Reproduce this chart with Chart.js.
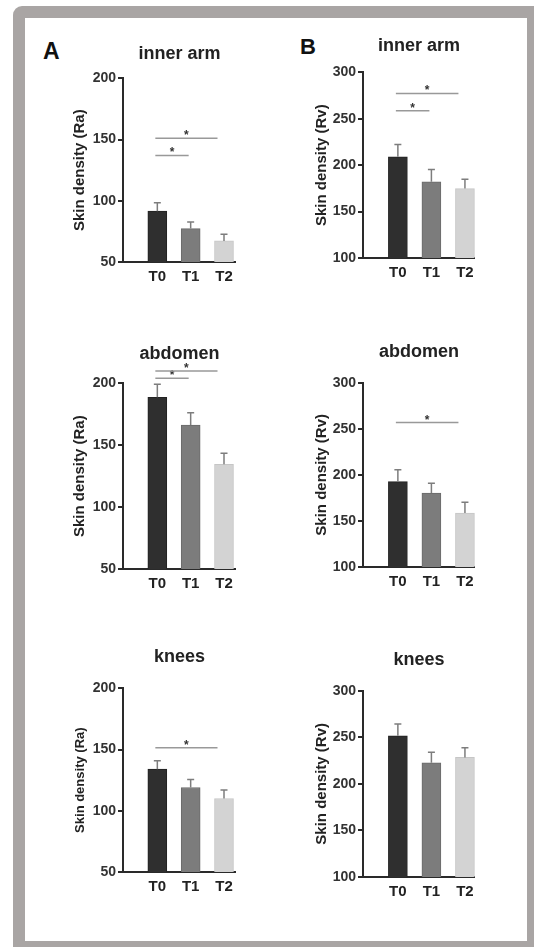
<!DOCTYPE html>
<html>
<head>
<meta charset="utf-8">
<script src="https://cdn.jsdelivr.net/npm/chart.js@4.4.1/dist/chart.umd.min.js"></script>
<style>
  html, body { margin: 0; padding: 0; background: #fff; }
  body { width: 534px; height: 947px; position: relative; overflow: hidden; font-family: "Liberation Sans", Arial, sans-serif; }
  .frame { position: absolute; left: 13px; top: 6px; width: 540px; height: 960px; background: #a9a5a4; border-radius: 9px; }
  .sheet { position: absolute; left: 25px; top: 18px; width: 502px; height: 923px; background: #fff; }
  .letter { position: absolute; font-weight: bold; color: #111; line-height: 1; }
  canvas { position: absolute; }
</style>
</head>
<body>
<div class="frame"></div>
<div class="sheet"></div>
<div class="letter" style="left:43px; top:40px; font-size:23px;">A</div>
<div class="letter" style="left:300px; top:36px; font-size:22px;">B</div>

<canvas id="armRa" width="165" height="249" style="left:71px; top:43px;"></canvas>
<canvas id="armRv" width="162" height="253" style="left:313px; top:35px;"></canvas>
<canvas id="abdRa" width="165" height="256" style="left:71px; top:343px;"></canvas>
<canvas id="abdRv" width="162" height="256" style="left:313px; top:341px;"></canvas>
<canvas id="kneeRa" width="165" height="256" style="left:71px; top:646px;"></canvas>
<canvas id="kneeRv" width="162" height="258" style="left:313px; top:649px;"></canvas>

<script>
// categories and tick values
const timepoints = ["T0", "T1", "T2"];
const raTicks = [50, 100, 150, 200];
const rvTicks = [100, 150, 200, 250, 300];

// mean + SD, brackets are [from, to, level]
const armRaMean = [91.5, 77.3, 67.2];
const armRaSd = [6.8, 5.4, 5.5];
const armRaSig = [[0, 1, 137], [0, 2, 151]];

const armRvMean = [209, 182, 174.8];
const armRvSd = [13.3, 13.4, 10.1];
const armRvSig = [[0, 1, 258.6], [0, 2, 277.3]];

const abdRaMean = [188.7, 166.3, 134.6];
const abdRaSd = [10.5, 10, 8.9];
const abdRaSig = [[0, 1, 204], [0, 2, 210]];

const abdRvMean = [192.7, 180.2, 158.5];
const abdRvSd = [12.7, 10.8, 11.9];
const abdRvSig = [[0, 2, 256.7]];

const kneeRaMean = [134, 119, 110];
const kneeRaSd = [6.8, 6.6, 6.9];
const kneeRaSig = [[0, 2, 151.5]];

const kneeRvMean = [251.6, 222.6, 228.4];
const kneeRvSd = [12.6, 11.2, 10.3];
const kneeRvSig = [];

const FONT = "'Liberation Sans', Arial, sans-serif";
const AXIS = "#2a2a2a";

// error bars (upper only) and significance brackets
const extrasPlugin = {
  id: "extras",
  afterDatasetsDraw(chart, args, opts) {
    const { ctx } = chart;
    const x = chart.scales.x;
    const y = chart.scales.y;
    const meta = chart.getDatasetMeta(0);
    ctx.save();
    ctx.lineWidth = 1.5;
    ctx.strokeStyle = "#7d7d7d";
    meta.data.forEach(function (bar, i) {
      const top = y.getPixelForValue(opts.mean[i] + opts.sd[i]);
      ctx.beginPath();
      ctx.moveTo(bar.x, bar.y);
      ctx.lineTo(bar.x, top);
      ctx.moveTo(bar.x - 3.5, top);
      ctx.lineTo(bar.x + 3.5, top);
      ctx.stroke();
    });

    opts.sig.forEach(function (s) {
      const x1 = x.getPixelForValue(s[0]) - 2;
      const x2 = x.getPixelForValue(s[1]) - (s[1] - s[0] > 1 ? 6.5 : 2);
      const yy = y.getPixelForValue(s[2]);
      ctx.strokeStyle = "#999";
      ctx.lineWidth = 1.5;
      ctx.beginPath();
      ctx.moveTo(x1, yy);
      ctx.lineTo(x2, yy);
      ctx.stroke();
      ctx.fillStyle = "#333";
      ctx.font = "bold 12px " + FONT;
      ctx.textAlign = "center";
      ctx.textBaseline = "alphabetic";
      ctx.fillText("*", (x1 + x2) / 2, yy + 1);
    });
    ctx.restore();
  },
};

function makePanel(id, title, yLabel, mean, sd, sig, ticks, xRange, pad) {
  const ctx = document.getElementById(id);
  if (!ctx) return;

  return new Chart(ctx, {
    type: "bar",
    data: {
      datasets: [
        {
          data: timepoints.map(function (t, i) {
            return { x: i, y: mean[i] };
          }),
          backgroundColor: ["#2f2f2f", "#7c7c7c", "#d3d3d3"],
          borderColor: ["#222222", "#6a6a6a", "#c6c6c6"],
          borderWidth: 1,
          barThickness: 19,
        },
      ],
    },
    options: {
      responsive: false,
      animation: false,
      layout: { padding: 0 },
      plugins: {
        legend: { display: false },
        tooltip: { enabled: false },
        title: {
          display: true,
          text: title,
          fullSize: false,
          color: "#222",
          font: { family: FONT, size: 18, weight: "bold" },
          padding: { top: 0, bottom: pad.title },
        },
        extras: { mean: mean, sd: sd, sig: sig },
      },
      scales: {
        x: {
          type: "linear",
          min: xRange[0],
          max: xRange[1],
          offset: false,
          grid: { display: false, offset: false, tickLength: 6 },
          border: { display: true, color: AXIS, width: 2 },
          ticks: {
            stepSize: 1,
            includeBounds: false,
            autoSkip: false,
            maxRotation: 0,
            padding: 0,
            color: "#222",
            font: { family: FONT, size: 15, weight: "bold" },
            callback: function (v) {
              return (Number.isInteger(v) && timepoints[v]) || "";
            },
          },
          afterFit: function (s) {
            s.height = 30;
          },
        },
        y: {
          min: ticks[0],
          max: ticks[ticks.length - 1],
          grid: {
            drawOnChartArea: false,
            drawTicks: true,
            tickLength: 5,
            lineWidth: 2,
            color: AXIS,
          },
          border: { display: true, color: AXIS, width: 2 },
          ticks: {
            stepSize: ticks[1] - ticks[0],
            padding: 2,
            color: "#333",
            font: { family: FONT, size: 14, weight: "bold" },
          },
          title: {
            display: true,
            text: yLabel,
            color: "#222",
            font: { family: FONT, size: pad.labelSize, weight: "bold" },
            padding: { top: pad.labelTop, bottom: 0 },
          },
          afterFit: function (s) {
            s.width = pad.axis;
          },
        },
      },
    },
    plugins: [extrasPlugin],
  });
}

document.addEventListener("DOMContentLoaded", function () {
  const colA = [-1.03, 2.36];
  const colB = [-1.04, 2.3];

  makePanel("armRa", "inner arm", "Skin density (Ra)", armRaMean, armRaSd, armRaSig, raTicks, colA,
    { title: 13.7, axis: 52, labelSize: 15, labelTop: 0 });
  makePanel("armRv", "inner arm", "Skin density (Rv)", armRvMean, armRvSd, armRvSig, rvTicks, colB,
    { title: 15.7, axis: 50, labelSize: 15, labelTop: 0 });
  makePanel("abdRa", "abdomen", "Skin density (Ra)", abdRaMean, abdRaSd, abdRaSig, raTicks, colA,
    { title: 18.7, axis: 52, labelSize: 15, labelTop: 0 });
  makePanel("abdRv", "abdomen", "Skin density (Rv)", abdRvMean, abdRvSd, abdRvSig, rvTicks, colB,
    { title: 20.1, axis: 50, labelSize: 15, labelTop: 0 });
  makePanel("kneeRa", "knees", "Skin density (Ra)", kneeRaMean, kneeRaSd, kneeRaSig, raTicks, colA,
    { title: 20.7, axis: 52, labelSize: 13, labelTop: 2 });
  makePanel("kneeRv", "knees", "Skin density (Rv)", kneeRvMean, kneeRvSd, kneeRvSig, rvTicks, colB,
    { title: 20.1, axis: 50, labelSize: 15, labelTop: 0 });
});
</script>
</body>
</html>
